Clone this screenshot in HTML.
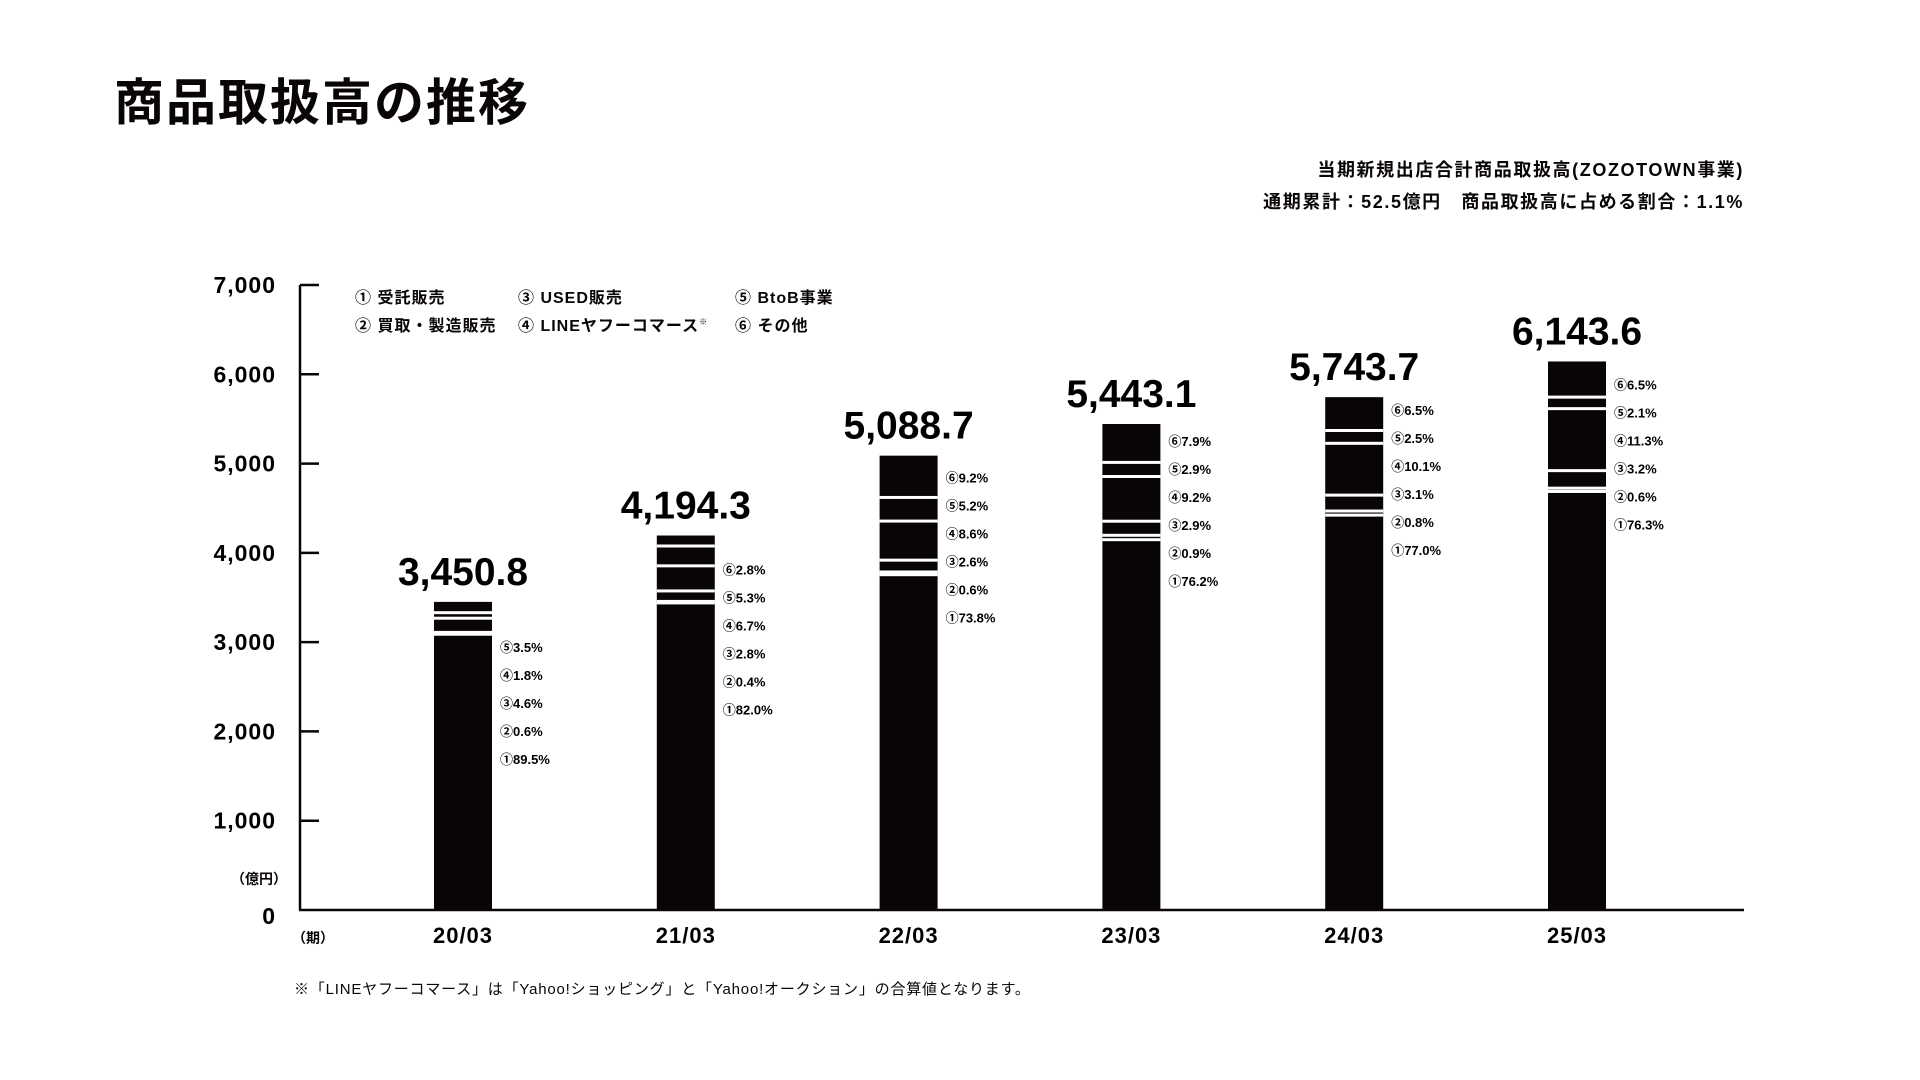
<!DOCTYPE html>
<html><head><meta charset="utf-8">
<style>
html,body{margin:0;padding:0;background:#fff;}
body{width:1920px;height:1080px;overflow:hidden;position:relative;font-family:"Liberation Sans","Noto Sans CJK JP",sans-serif;color:#0a0505;}
.t{position:absolute;white-space:nowrap;}
.lg{font-size:16px;font-weight:bold;letter-spacing:1px;}
</style></head>
<body>
<div class="t" style="left:114px;top:63px;font-size:50px;font-weight:bold;letter-spacing:2px;">商品取扱高の推移</div>
<div class="t" style="right:176px;top:156px;font-size:18px;font-weight:bold;letter-spacing:1.6px;">当期新規出店合計商品取扱高(ZOZOTOWN事業)</div>
<div class="t" style="right:176px;top:188px;font-size:18px;font-weight:bold;letter-spacing:1.6px;">通期累計：52.5億円　商品取扱高に占める割合：1.1%</div>

<div class="t lg" style="left:355px;top:284px;">① 受託販売</div>
<div class="t lg" style="left:355px;top:312px;">② 買取・製造販売</div>
<div class="t lg" style="left:518px;top:284px;">③ USED販売</div>
<div class="t lg" style="left:518px;top:312px;">④ LINEヤフーコマース<sup style="font-size:8px">※</sup></div>
<div class="t lg" style="left:735px;top:284px;">⑤ BtoB事業</div>
<div class="t lg" style="left:735px;top:312px;">⑥ その他</div>

<div class="t" style="left:231px;top:869px;font-size:14px;font-weight:bold;">（億円）</div>
<div class="t" style="left:292px;top:928px;font-size:14px;font-weight:bold;">（期）</div>
<div class="t" style="left:294px;top:978px;font-size:15px;letter-spacing:0.8px;">※「LINEヤフーコマース」は「Yahoo!ショッピング」と「Yahoo!オークション」の合算値となります。</div>

<svg id="chart" width="1920" height="1080" style="position:absolute;left:0;top:0;" xmlns="http://www.w3.org/2000/svg"></svg>
<script>
const categories = ["20/03","21/03","22/03","23/03","24/03","25/03"];
const totals = [3450.8, 4194.3, 5088.7, 5443.1, 5743.7, 6143.6];
const totalLabels = ["3,450.8","4,194.3","5,088.7","5,443.1","5,743.7","6,143.6"];
const share1 = [89.5, 82.0, 73.8, 76.2, 77.0, 76.3];
const share2 = [0.6, 0.4, 0.6, 0.9, 0.8, 0.6];
const share3 = [4.6, 2.8, 2.6, 2.9, 3.1, 3.2];
const share4 = [1.8, 6.7, 8.6, 9.2, 10.1, 11.3];
const share5 = [3.5, 5.3, 5.2, 2.9, 2.5, 2.1];
const share6 = [0, 2.8, 9.2, 7.9, 6.5, 6.5];
const yTicks = [0,1000,2000,3000,4000,5000,6000,7000];
const yTickLabels = ["0","1,000","2,000","3,000","4,000","5,000","6,000","7,000"];
const circled = ["①","②","③","④","⑤","⑥"];

const svg = document.getElementById('chart');
const NS = 'http://www.w3.org/2000/svg';
const X0 = 300, X1 = 1744, Y0 = 910, Y7 = 285, YMAX = 7000;
const yScale = v => Y0 - v * (Y0 - Y7) / YMAX;
const xCenter = i => 463 + i * 222.8;
const BW = 58;
const labelDy = [45, 34, 22, 17, 13, 23];

function mk(tag, attrs){ const e=document.createElementNS(NS,tag); for(const k in attrs) e.setAttribute(k,attrs[k]); svg.appendChild(e); return e; }

let ax = mk('line',{x1:X0,y1:Y7,x2:X0,y2:Y0,stroke:'#0a0505','stroke-width':2.5});


let bx = mk('line',{x1:X0-1,y1:Y0,x2:X1,y2:Y0,stroke:'#0a0505','stroke-width':2.5});



yTicks.forEach((v,i)=>{
  const y = yScale(v);
  if (v>0){
    const tk = mk('line',{x1:X0,y1:y,x2:X0+19,y2:y,stroke:'#0a0505','stroke-width':2.5});
    
    
  }
  const t = mk('text',{x:276,y:(v===0? y+14 : y+8),'text-anchor':'end','font-size':23,'font-weight':'bold','font-family':'Liberation Sans, sans-serif','letter-spacing':1});
  t.textContent = yTickLabels[i];
  
  
});

const shares = [share1,share2,share3,share4,share5,share6];
categories.forEach((c,i)=>{
  const cx = xCenter(i), left = cx - BW/2;
  const top = yScale(totals[i]);
  const bar = mk('rect',{x:left,y:top,width:BW,height:Y0-top,fill:'#0a0505'});
  
  
  let cum = 0;
  for (let s=0;s<5;s++){
    cum += shares[s][i];
    const rest = shares.slice(s+1).reduce((a,arr)=>a+arr[i],0);
    if (rest <= 0) break;
    const y = yScale(totals[i]*cum/100);
    const sep = mk('rect',{x:left,y:y-1.5,width:BW,height:3,fill:'#fff'});
    
    
  }
  const vl = mk('text',{x:cx,y:top-17,'text-anchor':'middle','font-size':39,'font-weight':'bold','font-family':'Liberation Sans, sans-serif'});
  vl.textContent = totalLabels[i];
  
  
  const xl = mk('text',{x:cx,y:943,'text-anchor':'middle','font-size':22,'font-weight':'bold','font-family':'Liberation Sans, sans-serif','letter-spacing':1});
  xl.textContent = c;
  
  
  let row = 0;
  for (let s=5;s>=0;s--){
    if (shares[s][i] <= 0) continue;
    const ty = top + labelDy[i] + row*28 + 5;
    const pl = mk('text',{x:left+BW+8,y:ty,'font-size':13,'font-weight':'bold','font-family':'Liberation Sans, Noto Sans CJK JP, sans-serif'});
    pl.textContent = circled[s] + shares[s][i].toFixed(1) + '%';
    
    
    row++;
  }
});
</script>
</body></html>
